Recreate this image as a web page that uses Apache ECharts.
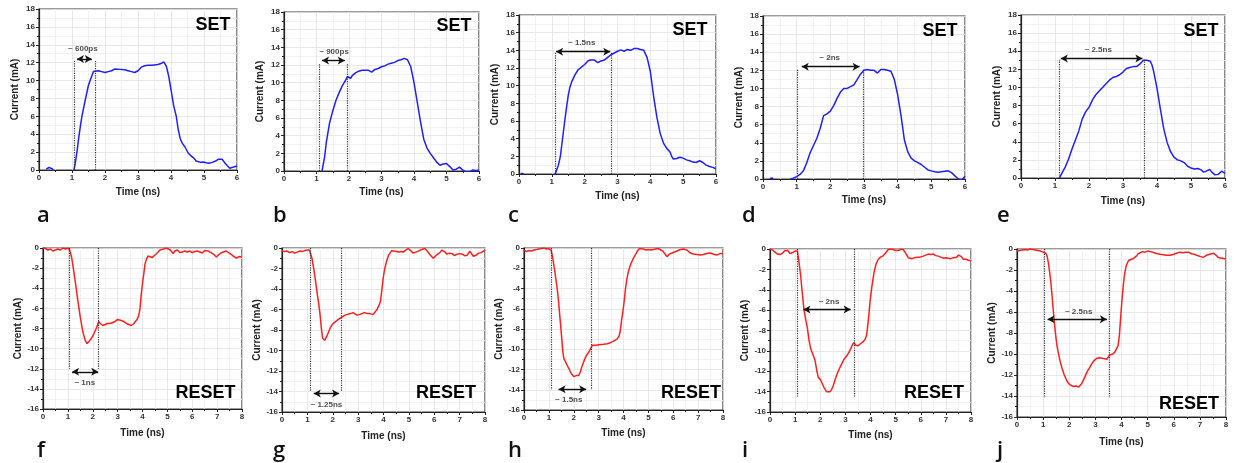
<!DOCTYPE html>
<html><head><meta charset="utf-8">
<script src="https://cdn.jsdelivr.net/npm/echarts/dist/echarts.min.js"></script>
<style>html,body{margin:0;padding:0;background:#fff}#c{width:1235px;height:463px}</style>
</head><body><div id="c"></div>
<script>
// ---------- DATA ----------
const panelLetters = ['a','b','c','d','e','f','g','h','i','j'];
const setTicksX = [0, 6, 1];      // min, max, step (ns)
const setTicksY = [0, 18, 2];     // min, max, step (mA)
const resetTicksX = [0, 8, 1];
const resetTicksY = [-16, 0, 2];

const setA = [[0.22,0.1],[0.26,0.3],[0.3,0.28],[0.35,0.2],[0.4,0.15],[0.43,0.05],[0.46,-0.3],[1.0,-0.3],[1.06,0],[1.1,0.8],[1.15,2.0],[1.2,3.5],[1.25,4.8],[1.3,6.0],[1.4,7.8],[1.5,9.5],[1.6,10.5],[1.65,11.0],[1.7,11.2],[1.8,11.1],[1.9,11.0],[2.0,10.9],[2.1,11.0],[2.2,11.1],[2.3,11.3],[2.35,11.4],[2.45,11.25],[2.6,11.2],[2.7,11.1],[2.8,11.0],[2.9,10.9],[3.0,11.1],[3.1,11.5],[3.2,11.65],[3.3,11.7],[3.4,11.7],[3.5,11.75],[3.6,11.8],[3.7,11.9],[3.78,12.1],[3.82,11.95],[3.86,11.6],[3.93,10.5],[4.0,9.0],[4.08,7.2],[4.16,6.0],[4.22,4.5],[4.28,3.5],[4.34,3.0],[4.42,2.6],[4.52,1.9],[4.6,1.6],[4.7,1.3],[4.76,1.0],[4.82,0.9],[4.9,0.85],[4.97,0.9],[5.03,1.0],[5.07,0.8],[5.15,0.75],[5.25,0.85],[5.35,1.0],[5.43,1.2],[5.48,1.3],[5.55,1.2],[5.62,0.85],[5.7,0.5],[5.78,0.2],[5.83,0.05],[5.87,0.3],[5.93,0.5],[6.0,0.45]];
const setB = [[1.17,0],[1.25,1.6],[1.3,3.2],[1.4,5.4],[1.5,6.8],[1.6,8.0],[1.7,8.9],[1.8,9.7],[1.9,10.3],[1.95,10.7],[2.0,10.7],[2.05,10.5],[2.1,10.8],[2.2,11.1],[2.3,11.3],[2.4,11.4],[2.5,11.4],[2.6,11.4],[2.7,11.2],[2.8,11.5],[2.9,11.6],[3.0,11.8],[3.1,11.9],[3.2,12.1],[3.3,12.2],[3.4,12.3],[3.5,12.5],[3.6,12.6],[3.7,12.75],[3.8,12.6],[3.85,12.4],[3.9,11.8],[4.0,10.0],[4.1,7.8],[4.2,5.6],[4.3,3.6],[4.4,2.6],[4.5,2.0],[4.6,1.5],[4.7,1.0],[4.8,0.65],[4.9,0.8],[5.0,0.85],[5.1,0.5],[5.2,0.1],[5.3,0.2],[5.4,0.45],[5.45,0.3],[5.5,0.1],[5.6,-0.1],[5.7,-0.1],[5.8,0.1],[5.9,0.05],[6.0,0.1]];
const setC = [[0.05,0.05],[0.12,0.05],[0.15,-0.3],[1.05,-0.3],[1.11,0.1],[1.2,1.0],[1.26,2.0],[1.3,3.2],[1.35,4.7],[1.4,6.2],[1.45,7.6],[1.5,8.9],[1.55,9.8],[1.6,10.4],[1.7,11.2],[1.8,11.8],[1.9,12.1],[2.0,12.4],[2.1,12.8],[2.17,12.9],[2.22,12.8],[2.3,12.9],[2.4,12.6],[2.5,12.8],[2.6,12.9],[2.7,13.2],[2.8,13.5],[2.9,13.7],[3.0,13.9],[3.1,14.05],[3.2,13.9],[3.3,14.1],[3.4,14.0],[3.5,14.2],[3.6,14.2],[3.7,14.1],[3.8,14.0],[3.86,13.85],[3.9,13.2],[4.0,11.6],[4.1,8.8],[4.2,6.4],[4.3,4.6],[4.4,3.5],[4.5,2.9],[4.6,2.5],[4.65,2.0],[4.7,1.7],[4.8,1.75],[4.9,1.9],[5.0,1.8],[5.1,1.6],[5.2,1.5],[5.3,1.35],[5.4,1.3],[5.5,1.5],[5.55,1.55],[5.6,1.3],[5.7,1.0],[5.8,0.85],[5.9,0.75],[6.0,0.6]];
const setD = [[0.2,0.05],[0.22,0.15],[0.28,0.1],[0.33,0.15],[0.36,-0.3],[0.78,-0.3],[0.82,0],[0.9,0.1],[1.0,0.25],[1.1,0.5],[1.2,0.9],[1.3,1.8],[1.4,2.9],[1.5,3.7],[1.6,4.5],[1.7,5.6],[1.8,7.0],[1.9,7.2],[2.0,7.5],[2.1,8.1],[2.2,8.9],[2.3,9.6],[2.4,10.0],[2.5,10.0],[2.6,10.2],[2.7,10.4],[2.8,11.0],[2.9,11.6],[3.0,12.0],[3.1,12.1],[3.2,12.0],[3.3,12.0],[3.4,11.7],[3.5,12.1],[3.6,12.1],[3.7,12.0],[3.8,11.9],[3.9,11.0],[4.0,9.3],[4.1,7.0],[4.2,4.3],[4.3,3.0],[4.4,2.3],[4.5,2.0],[4.6,1.8],[4.7,1.6],[4.8,1.3],[4.9,1.0],[5.0,0.9],[5.1,0.8],[5.2,0.75],[5.3,0.8],[5.4,0.85],[5.5,0.9],[5.6,0.7],[5.7,0.35],[5.8,0.0],[5.9,-0.1],[6.0,0.3]];
const setE = [[1.13,0],[1.2,0.5],[1.3,1.2],[1.4,2.1],[1.5,3.2],[1.6,4.2],[1.7,5.2],[1.8,6.5],[1.9,7.3],[2.0,7.8],[2.1,8.6],[2.2,9.2],[2.3,9.6],[2.4,10.0],[2.5,10.4],[2.6,10.8],[2.7,11.1],[2.8,11.2],[2.9,11.4],[3.0,11.7],[3.1,12.1],[3.2,12.2],[3.3,12.3],[3.4,12.3],[3.5,12.6],[3.6,13.0],[3.65,13.1],[3.7,13.0],[3.8,12.9],[3.85,12.5],[3.9,11.8],[4.0,9.9],[4.1,7.6],[4.2,5.4],[4.3,3.9],[4.4,2.9],[4.5,2.3],[4.6,2.0],[4.7,1.9],[4.8,1.7],[4.9,1.3],[5.0,1.1],[5.1,1.0],[5.2,1.05],[5.3,0.9],[5.36,0.65],[5.45,0.75],[5.5,0.9],[5.55,0.95],[5.6,0.7],[5.7,0.35],[5.8,0.4],[5.9,0.75],[6.0,0.5]];
const resetF = [[0,0],[0.1,-0.05],[0.2,-0.2],[0.3,-0.1],[0.4,-0.3],[0.5,-0.2],[0.6,-0.1],[0.7,-0.2],[0.8,0],[0.9,-0.1],[1.0,0],[1.07,-0.2],[1.15,-0.9],[1.2,-1.7],[1.3,-3.4],[1.4,-5.2],[1.5,-6.9],[1.6,-8.3],[1.7,-9.2],[1.77,-9.5],[1.85,-9.3],[1.94,-9.0],[2.05,-8.5],[2.14,-8.0],[2.24,-7.3],[2.3,-7.5],[2.4,-7.7],[2.5,-7.6],[2.6,-7.5],[2.7,-7.5],[2.8,-7.4],[2.9,-7.3],[3.0,-7.1],[3.06,-7.0],[3.15,-7.2],[3.24,-7.3],[3.35,-7.5],[3.45,-7.6],[3.55,-7.7],[3.65,-7.5],[3.78,-7.1],[3.85,-6.7],[3.9,-6.0],[3.95,-4.6],[4.0,-3.5],[4.05,-2.6],[4.1,-1.6],[4.16,-1.1],[4.22,-0.8],[4.3,-0.8],[4.38,-0.95],[4.45,-0.85],[4.55,-0.6],[4.62,-0.5],[4.7,-0.2],[4.76,-0.05],[4.85,-0.1],[4.95,0],[5.03,-0.15],[5.12,-0.2],[5.23,-0.55],[5.3,-0.3],[5.4,-0.2],[5.5,-0.45],[5.6,-0.4],[5.7,-0.3],[5.8,-0.4],[5.9,-0.3],[6.0,-0.45],[6.1,-0.35],[6.2,-0.3],[6.3,-0.4],[6.4,-0.5],[6.5,-0.25],[6.57,-0.1],[6.65,-0.3],[6.75,-0.45],[6.85,-0.6],[6.97,-0.9],[7.05,-0.7],[7.15,-0.5],[7.25,-0.4],[7.37,-0.3],[7.45,-0.4],[7.55,-0.6],[7.65,-0.8],[7.77,-1.0],[7.88,-0.85],[8.0,-0.9]];
const resetG = [[0,-0.3],[0.1,-0.35],[0.2,-0.3],[0.3,-0.45],[0.4,-0.35],[0.5,-0.5],[0.6,-0.4],[0.7,-0.3],[0.8,-0.35],[0.9,-0.25],[1.0,-0.2],[1.08,-0.2],[1.12,-0.3],[1.18,-1.0],[1.25,-2.0],[1.32,-3.2],[1.38,-4.3],[1.45,-5.5],[1.5,-6.5],[1.55,-7.8],[1.6,-8.8],[1.68,-9.0],[1.75,-8.7],[1.82,-8.3],[1.9,-7.8],[2.0,-7.4],[2.1,-7.2],[2.2,-7.0],[2.33,-6.8],[2.45,-6.6],[2.54,-6.5],[2.7,-6.4],[2.8,-6.3],[2.87,-6.4],[2.95,-6.55],[3.05,-6.5],[3.15,-6.4],[3.26,-6.3],[3.36,-6.4],[3.46,-6.4],[3.59,-6.5],[3.68,-6.2],[3.75,-6.0],[3.82,-5.6],[3.88,-5.2],[3.93,-4.2],[3.99,-2.9],[4.05,-2.0],[4.12,-1.3],[4.2,-0.7],[4.32,-0.26],[4.4,-0.3],[4.51,-0.35],[4.6,-0.4],[4.7,-0.35],[4.78,-0.4],[4.88,-0.2],[4.97,-0.05],[5.05,-0.2],[5.17,-0.5],[5.27,-0.4],[5.37,-0.3],[5.5,-0.15],[5.63,-0.05],[5.72,-0.3],[5.85,-0.7],[5.96,-1.0],[6.08,-0.7],[6.22,-0.45],[6.3,-0.2],[6.4,-0.35],[6.5,-0.6],[6.6,-0.5],[6.7,-0.55],[6.8,-0.75],[6.9,-0.6],[7.0,-0.55],[7.1,-0.6],[7.2,-0.75],[7.3,-0.7],[7.4,-0.3],[7.54,-0.8],[7.65,-0.7],[7.75,-0.5],[7.85,-0.45],[8.0,-0.2]];
const resetH = [[0,-0.2],[0.1,-0.35],[0.2,-0.25],[0.3,-0.3],[0.4,-0.2],[0.5,-0.15],[0.6,-0.1],[0.7,-0.05],[0.8,0],[0.9,-0.1],[1.0,-0.05],[1.05,-0.1],[1.09,-0.2],[1.15,-0.9],[1.22,-2.0],[1.3,-3.4],[1.35,-4.3],[1.4,-5.6],[1.46,-7.3],[1.52,-9.0],[1.56,-10.2],[1.6,-10.9],[1.7,-11.4],[1.78,-11.8],[1.86,-12.2],[1.93,-12.5],[2.0,-12.7],[2.1,-12.6],[2.2,-12.6],[2.27,-12.2],[2.33,-11.7],[2.42,-11.1],[2.51,-10.6],[2.6,-10.3],[2.69,-9.9],[2.75,-9.6],[2.8,-9.5],[2.9,-9.6],[3.0,-9.55],[3.07,-9.6],[3.2,-9.5],[3.35,-9.45],[3.47,-9.35],[3.6,-9.2],[3.74,-9.0],[3.82,-8.7],[3.87,-8.2],[3.93,-7.0],[3.98,-6.2],[4.03,-5.2],[4.08,-4.0],[4.14,-3.0],[4.2,-2.3],[4.28,-1.65],[4.38,-1.1],[4.48,-0.65],[4.56,-0.3],[4.64,-0.05],[4.72,-0.15],[4.8,-0.1],[4.9,-0.2],[5.0,-0.15],[5.1,-0.2],[5.2,-0.15],[5.3,-0.1],[5.4,-0.05],[5.48,-0.15],[5.58,-0.3],[5.67,-0.6],[5.75,-0.85],[5.85,-0.6],[5.95,-0.5],[6.05,-0.4],[6.15,-0.3],[6.29,-0.15],[6.4,-0.1],[6.55,-0.2],[6.69,-0.5],[6.8,-0.6],[6.95,-0.65],[7.09,-0.7],[7.2,-0.65],[7.35,-0.55],[7.49,-0.5],[7.6,-0.6],[7.75,-0.7],[7.88,-0.55],[8.0,-0.55]];
const resetI = [[0,0],[0.1,-0.1],[0.2,-0.3],[0.3,-0.5],[0.4,-0.55],[0.5,-0.4],[0.6,-0.15],[0.65,-0.05],[0.7,-0.15],[0.8,-0.45],[0.9,-0.35],[1.0,-0.2],[1.09,-0.2],[1.15,-1.2],[1.22,-2.6],[1.28,-4.2],[1.35,-5.9],[1.42,-6.9],[1.49,-7.8],[1.55,-8.9],[1.62,-9.8],[1.7,-10.3],[1.79,-10.9],[1.86,-11.9],[1.92,-12.6],[2.0,-12.8],[2.06,-13.1],[2.15,-13.6],[2.25,-14.0],[2.32,-14.1],[2.39,-14.0],[2.45,-13.8],[2.52,-13.4],[2.58,-12.9],[2.65,-12.4],[2.75,-11.8],[2.85,-11.3],[2.95,-10.8],[3.05,-10.5],[3.13,-10.2],[3.21,-9.8],[3.28,-9.4],[3.34,-9.2],[3.42,-9.45],[3.51,-9.5],[3.6,-9.3],[3.71,-9.1],[3.8,-8.8],[3.85,-8.4],[3.9,-7.3],[3.94,-6.3],[3.98,-5.2],[4.05,-3.8],[4.14,-2.3],[4.22,-1.5],[4.31,-1.0],[4.4,-0.8],[4.51,-0.65],[4.6,-0.4],[4.71,-0.05],[4.8,0],[4.9,-0.05],[5.0,-0.15],[5.1,-0.15],[5.2,-0.05],[5.3,-0.05],[5.4,-0.4],[5.5,-0.85],[5.57,-1.0],[5.65,-0.95],[5.75,-0.85],[5.85,-0.8],[5.97,-0.8],[6.1,-0.7],[6.2,-0.6],[6.3,-0.5],[6.4,-0.55],[6.5,-0.5],[6.6,-0.65],[6.7,-0.7],[6.8,-0.8],[6.9,-0.9],[7.0,-0.85],[7.1,-0.9],[7.2,-0.95],[7.3,-0.85],[7.43,-0.8],[7.5,-0.6],[7.56,-0.5],[7.62,-0.75],[7.69,-1.0],[7.8,-1.0],[7.9,-1.1],[8.0,-1.15]];
const resetJ = [[0,-0.2],[0.1,-0.15],[0.2,-0.1],[0.3,-0.05],[0.4,-0.1],[0.5,0],[0.6,-0.05],[0.7,-0.1],[0.8,-0.15],[0.9,-0.2],[1.0,-0.3],[1.06,-0.2],[1.1,-0.4],[1.15,-0.65],[1.2,-1.3],[1.25,-2.2],[1.3,-3.3],[1.34,-4.4],[1.38,-5.6],[1.43,-7.0],[1.48,-8.2],[1.53,-9.2],[1.6,-10.1],[1.66,-10.8],[1.73,-11.4],[1.81,-12.0],[1.9,-12.5],[1.97,-12.8],[2.07,-13.0],[2.17,-13.1],[2.26,-13.05],[2.36,-13.15],[2.42,-13.0],[2.48,-12.8],[2.58,-12.3],[2.68,-11.7],[2.78,-11.3],[2.87,-10.9],[2.96,-10.6],[3.06,-10.4],[3.15,-10.35],[3.25,-10.4],[3.35,-10.45],[3.44,-10.5],[3.54,-10.1],[3.6,-10.0],[3.67,-10.0],[3.75,-9.8],[3.82,-9.65],[3.87,-9.2],[3.92,-8.2],[3.96,-6.8],[4.01,-5.1],[4.06,-3.7],[4.11,-2.5],[4.18,-1.6],[4.27,-1.1],[4.36,-1.0],[4.46,-0.9],[4.56,-0.7],[4.64,-0.45],[4.71,-0.3],[4.8,-0.25],[4.9,-0.3],[5.0,-0.2],[5.1,-0.25],[5.2,-0.3],[5.3,-0.4],[5.4,-0.45],[5.48,-0.5],[5.6,-0.55],[5.7,-0.6],[5.86,-0.6],[6.0,-0.5],[6.1,-0.4],[6.24,-0.3],[6.35,-0.35],[6.45,-0.3],[6.56,-0.3],[6.68,-0.45],[6.78,-0.5],[6.88,-0.6],[7.0,-0.7],[7.13,-0.8],[7.25,-0.6],[7.38,-0.5],[7.52,-0.4],[7.6,-0.55],[7.7,-0.8],[7.77,-0.95],[7.9,-0.9],[8.0,-0.95]];

// pulse-width markers: dotted edges [t1, t2], dotted line end current, arrow [t1, t2, current], label text and its [t, current]
const markA = {dots:[1.07,1.69], dotEnd:12.2, arrow:[1.15,1.6,12.4], text:'~ 600ps', at:[1.33,13.5]};
const markB = {dots:[1.07,1.95], dotEnd:12.2, arrow:[1.17,1.87,12.5], text:'~ 900ps', at:[1.54,13.5]};
const markC = {dots:[1.11,2.8], dotEnd:13.8, arrow:[1.13,2.78,13.85], text:'~ 1.5ns', at:[1.91,14.9]};
const markD = {dots:[1.03,2.97], dotEnd:12.2, arrow:[1.15,2.87,12.4], text:'~ 2ns', at:[1.98,13.4]};
const markE = {dots:[1.13,3.63], dotEnd:13.05, arrow:[1.17,3.57,13.2], text:'~ 2.5ns', at:[2.27,14.2]};
const markF = {dots:[1.07,2.24], dotEnd:-12.0, arrow:[1.17,2.22,-12.3], text:'~ 1ns', at:[1.68,-13.4]};
const markG = {dots:[1.12,2.33], dotEnd:-14.05, arrow:[1.25,2.25,-14.2], text:'~ 1.25ns', at:[1.75,-15.3]};
const markH = {dots:[1.09,2.69], dotEnd:-14.0, arrow:[1.39,2.5,-13.95], text:'~ 1.5ns', at:[1.8,-14.95]};
const markI = {dots:[1.09,3.34], dotEnd:-14.6, arrow:[1.33,3.21,-5.95], text:'~ 2ns', at:[2.35,-5.2]};
const markJ = {dots:[1.06,3.54], dotEnd:-14.2, arrow:[1.17,3.44,-6.7], text:'~ 2.5ns', at:[2.36,-5.95]};

const curves = [setA,setB,setC,setD,setE,resetF,resetG,resetH,resetI,resetJ];
const marks = [markA,markB,markC,markD,markE,markF,markG,markH,markI,markJ];

// ---------- LAYOUT (pixels) ----------
const boxes = [
  [39,9,198,161],[284,12,195,159],[519,15,197,159],[763,16,202,163],[1021,15,204,163],
  [43,248,199,161],[282,248,203,164],[524,248,199,162],[770,249,201,163],[1017,249,209,168]
];
const titlePos = [[213,25],[454,26.5],[690,30.5],[940,31.5],[1201,31.5],[205.5,393.5],[446,393.5],[691,393],[934,393.5],[1189,404.5]];
const letterPos = [[37,216],[273,216],[508,216],[742,216],[997,216],[37,451],[273,451],[508,451],[742,451],[997,451]];
const xNameGap = [17,16.5,17,16.5,18,19.5,19.5,18.5,18.5,20];

const FONT = '"Liberation Sans", Arial, sans-serif';
const option = {animation:false, grid:[], xAxis:[], yAxis:[], series:[], graphic:[]};

curves.forEach((data, i) => {
  const isSet = i < 5;
  const tx = isSet ? setTicksX : resetTicksX;
  const ty = isSet ? setTicksY : resetTicksY;
  const b = boxes[i];
  const m = marks[i];
  option.grid.push({left:b[0], top:b[1], width:b[2], height:b[3], show:true, borderColor:'#3a3a3a', borderWidth:1.2, backgroundColor:'#fff'});
  const common = {
    gridIndex:i, type:'value', nameLocation:'middle',
    nameTextStyle:{fontFamily:FONT, fontWeight:'bold', fontSize:10, color:'#222'},
    axisLine:{show:true, onZero:false, lineStyle:{color:'#222', width:1.2}},
    axisTick:{show:true, length:3, lineStyle:{color:'#222', width:1}},
    minorTick:{show:true, splitNumber:2, length:2, lineStyle:{color:'#222', width:1}},
    splitLine:{show:true, lineStyle:{color:'#e2e2e2', width:0.8}},
    minorSplitLine:{show:true, lineStyle:{color:'#efefef', width:0.8}},
    axisLabel:{fontFamily:FONT, fontWeight:'bold', fontSize:8, color:'#333', margin:4}
  };
  option.xAxis.push(Object.assign({}, common, {min:tx[0], max:tx[1], interval:tx[2], position:'bottom', name:'Time (ns)', nameGap:xNameGap[i]}));
  option.yAxis.push(Object.assign({}, common, {min:ty[0], max:ty[1], interval:ty[2], position:'left', name:'Current (mA)', nameGap:18.5}));

  const dotted = {type:'dotted', color:'#333', width:1.2};
  option.series.push({
    type:'line', xAxisIndex:i, yAxisIndex:i, data:data, showSymbol:false, symbol:'none', silent:true,
    lineStyle:{color: isSet ? '#1f1fff' : '#ff1f1f', width:1.5}, clip:true, z:3,
    markLine:{
      silent:true, symbol:'none', label:{show:false}, animation:false,
      data:[
        [{coord:[m.dots[0],0], lineStyle:dotted}, {coord:[m.dots[0],m.dotEnd]}],
        [{coord:[m.dots[1],0], lineStyle:dotted}, {coord:[m.dots[1],m.dotEnd]}],
        [{coord:[m.arrow[0],m.arrow[2]], symbol:'arrow', lineStyle:{type:'solid', color:'#111', width:1.4}},
         {coord:[m.arrow[1],m.arrow[2]], symbol:'arrow'}]
      ],
      symbolSize:[6,7]
    }
  });
  option.series.push({
    type:'scatter', xAxisIndex:i, yAxisIndex:i, symbolSize:0, silent:true,
    data:[{value:m.at, name:m.text}],
    label:{show:true, position:'inside', formatter:'{b}', fontFamily:FONT, fontWeight:'bold', fontSize:8, color:'#222'}
  });
  option.graphic.push({type:'text', x:titlePos[i][0], y:titlePos[i][1], z:100,
    style:{text: isSet ? 'SET' : 'RESET', font:'bold 18px ' + FONT, fill:'#000', align:'center', verticalAlign:'middle'}});
  option.graphic.push({type:'text', x:letterPos[i][0], y:letterPos[i][1], z:100,
    style:{text: panelLetters[i], font:'600 22px "Open Sans", sans-serif', fill:'#111', align:'left', verticalAlign:'middle'}});
});

const chart = echarts.init(document.getElementById('c'), null, {renderer:'canvas'});
chart.setOption(option);
</script></body></html>
